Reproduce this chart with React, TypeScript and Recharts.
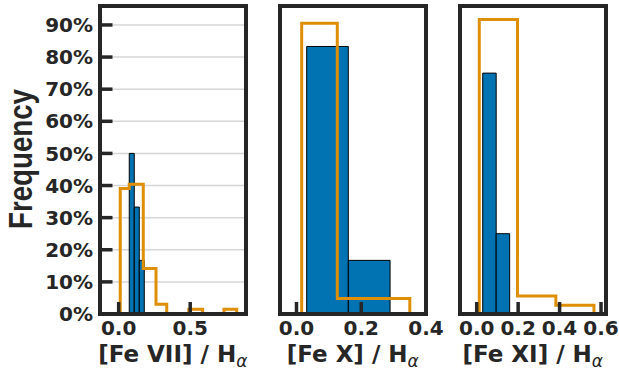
import { ComposedChart, XAxis, YAxis, CartesianGrid, ReferenceArea, Line } from "recharts";

const INK = "#262626";
const BLUE = "#0173b2";
const ORANGE = "#de8f05";
const TICK_FONT = "DejaVu Sans";
const RIGHT_PAD = 24;

const yTicks = [0, 0.1, 0.2, 0.3, 0.4, 0.5, 0.6, 0.7, 0.8, 0.9];
const yMax = 0.959;

// [Fe VII] / H-alpha
const fe7Ticks = [0, 0.5];
const fe7BarEdges = [0.074, 0.109, 0.144, 0.179];
const fe7BarValues = [0.5, 0.333, 0.167];
const fe7StepEdges = [0.011, 0.074, 0.172, 0.261, 0.336, 0.41, 0.49, 0.587, 0.66, 0.736, 0.825];
const fe7StepValues = [0.391, 0.404, 0.142, 0.03, 0, 0, 0.015, 0, 0, 0.015];

// [Fe X] / H-alpha
const fe10Ticks = [0, 0.2, 0.4];
const fe10BarEdges = [0.0315, 0.16, 0.289];
const fe10BarValues = [0.833, 0.167];
const fe10StepEdges = [0.016, 0.126, 0.238, 0.35];
const fe10StepValues = [0.905, 0.048, 0.048];

// [Fe XI] / H-alpha
const fe11Ticks = [0, 0.2, 0.4, 0.6];
const fe11BarEdges = [0.029, 0.094, 0.159];
const fe11BarValues = [0.75, 0.25];
const fe11StepEdges = [0.0125, 0.197, 0.382, 0.566];
const fe11StepValues = [0.917, 0.056, 0.027];

const pct = (v: number) => `${Math.round(v * 100)}%`;

interface PanelProps {
  left: number;
  plotWidth: number;
  axisWidth: number;
  domain: [number, number];
  ticks: number[];
  barEdges: number[];
  barValues: number[];
  stepEdges: number[];
  stepValues: number[];
  ion: string;
  showYLabels?: boolean;
}

function Panel({
  left,
  plotWidth,
  axisWidth,
  domain,
  ticks,
  barEdges,
  barValues,
  stepEdges,
  stepValues,
  ion,
  showYLabels = false,
}: PanelProps) {
  // outline for a step histogram: up at first edge, across each bin, down at the last edge
  const stepData = [
    { x: stepEdges[0], y: 0 },
    ...stepValues.map((v, i) => ({ x: stepEdges[i + 1], y: v })),
    { x: stepEdges[stepEdges.length - 1], y: 0 },
  ];
  const width = axisWidth + plotWidth + RIGHT_PAD;
  const labelX = axisWidth + plotWidth / 2;
  const tickStyle = { fill: INK, fontSize: 20, fontWeight: "bold", fontFamily: TICK_FONT };

  return (
    <div style={{ position: "absolute", left, top: 0 }}>
      <ComposedChart width={width} height={372} margin={{ top: 6, right: RIGHT_PAD, bottom: 0, left: 0 }}>
        <CartesianGrid vertical={false} stroke="#d6d6d6" strokeWidth={1.5} />
        <XAxis
          type="number"
          dataKey="x"
          domain={domain}
          allowDataOverflow
          ticks={ticks}
          interval={0}
          tickFormatter={(v: number) => v.toFixed(1)}
          height={58}
          axisLine={false}
          tickSize={-12}
          tickMargin={19}
          tickLine={{ stroke: INK, strokeWidth: 3.5 }}
          tick={tickStyle}
          label={{
            content: () => (
              <text
                x={labelX}
                y={362}
                textAnchor="middle"
                fill={INK}
                fontFamily={TICK_FONT}
                fontWeight="bold"
                fontSize={23}
              >
                {`[Fe ${ion}] / H`}
                <tspan dy={5} fontSize={17} fontStyle="italic" fontWeight="normal">
                  α
                </tspan>
              </text>
            ),
          }}
        />
        <YAxis
          type="number"
          domain={[0, yMax]}
          allowDataOverflow
          ticks={yTicks}
          interval={0}
          width={axisWidth}
          axisLine={false}
          tickSize={-13}
          tickMargin={19.5}
          tickLine={{ stroke: INK, strokeWidth: 3.5 }}
          tick={showYLabels ? tickStyle : false}
          tickFormatter={pct}
          label={
            showYLabels
              ? {
                  content: () => (
                    <text
                      x={32}
                      y={159}
                      transform="rotate(-90, 32, 159)"
                      textAnchor="middle"
                      fill={INK}
                      fontFamily="Liberation Sans"
                      fontWeight="bold"
                      fontSize={33}
                      textLength={140}
                      lengthAdjust="spacingAndGlyphs"
                    >
                      Frequency
                    </text>
                  ),
                }
              : undefined
          }
        />
        {barValues.map((v, i) => (
          <ReferenceArea
            key={i}
            x1={barEdges[i]}
            x2={barEdges[i + 1]}
            y1={0}
            y2={v}
            fill={BLUE}
            fillOpacity={1}
            stroke="#000"
            strokeWidth={1}
          />
        ))}
        <Line
          data={stepData}
          dataKey="y"
          type="stepBefore"
          stroke={ORANGE}
          strokeWidth={3}
          strokeLinejoin="miter"
          dot={false}
          activeDot={false}
          isAnimationActive={false}
        />
      </ComposedChart>
    </div>
  );
}

const frames = [99.5, 279.5, 459.5];

export default function App() {
  return (
    <div style={{ position: "absolute", left: 0, top: 0, width: 619, height: 372, background: "#fff", overflow: "hidden" }}>
      <Panel
        left={0}
        plotWidth={146.5}
        axisWidth={99.5}
        domain={[-0.134, 0.89]}
        ticks={fe7Ticks}
        barEdges={fe7BarEdges}
        barValues={fe7BarValues}
        stepEdges={fe7StepEdges}
        stepValues={fe7StepValues}
        ion="VII"
        showYLabels
      />
      <Panel
        left={250}
        plotWidth={146.5}
        axisWidth={29.5}
        domain={[-0.0525, 0.4]}
        ticks={fe10Ticks}
        barEdges={fe10BarEdges}
        barValues={fe10BarValues}
        stepEdges={fe10StepEdges}
        stepValues={fe10StepValues}
        ion="X"
      />
      <Panel
        left={430}
        plotWidth={146.5}
        axisWidth={29.5}
        domain={[-0.083, 0.624]}
        ticks={fe11Ticks}
        barEdges={fe11BarEdges}
        barValues={fe11BarValues}
        stepEdges={fe11StepEdges}
        stepValues={fe11StepValues}
        ion="XI"
      />
      {frames.map((x) => (
        <div
          key={x}
          style={{
            position: "absolute",
            left: x - 2,
            top: 4,
            width: 150.5,
            height: 312,
            boxSizing: "border-box",
            border: `4px solid ${INK}`,
            pointerEvents: "none",
          }}
        />
      ))}
    </div>
  );
}
